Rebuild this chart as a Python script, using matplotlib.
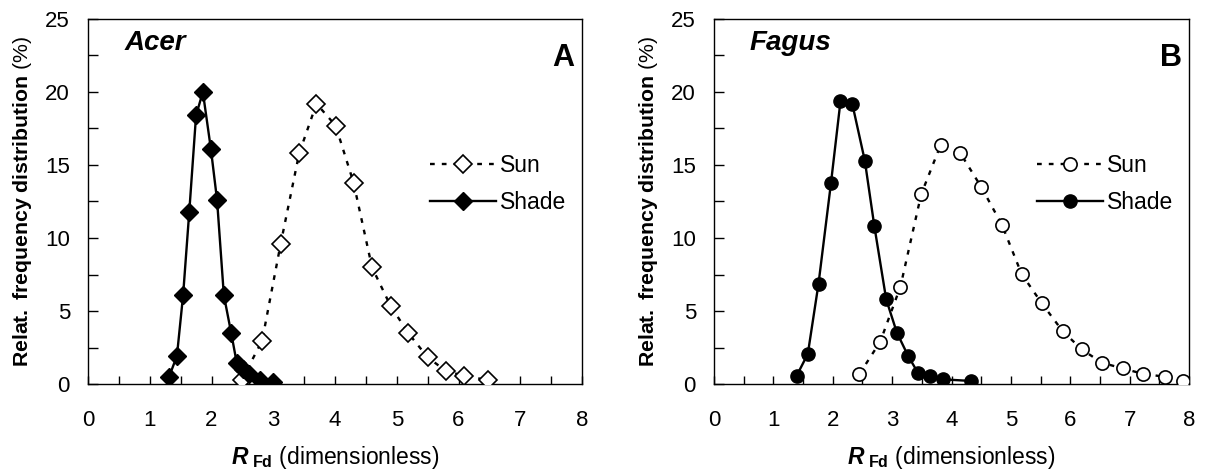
import matplotlib
matplotlib.use("Agg")
import matplotlib.pyplot as plt
from matplotlib.ticker import MultipleLocator

plt.rcParams['font.family'] = ['Liberation Sans', 'DejaVu Sans']
plt.rcParams['mathtext.fontset'] = 'custom'
plt.rcParams['mathtext.rm'] = 'Liberation Sans'
plt.rcParams['mathtext.bf'] = 'Liberation Sans:bold'
plt.rcParams['mathtext.bfit'] = 'Liberation Sans:bold:italic'
plt.rcParams['mathtext.it'] = 'Liberation Sans:italic'

# Acer
acer_sun_x = [2.49, 2.82, 3.12, 3.42, 3.70, 4.01, 4.30, 4.60, 4.90, 5.19, 5.50, 5.79, 6.09, 6.48]
acer_sun_y = [0.27, 2.97, 9.6, 15.8, 19.2, 17.7, 13.8, 7.98, 5.35, 3.47, 1.83, 0.91, 0.55, 0.27]
acer_shade_x = [1.31, 1.44, 1.54, 1.64, 1.75, 1.86, 1.99, 2.09, 2.20, 2.32, 2.41, 2.51, 2.60, 2.79, 2.99]
acer_shade_y = [0.46, 1.92, 6.08, 11.8, 18.4, 20.0, 16.1, 12.6, 6.08, 3.47, 1.42, 1.05, 0.70, 0.27, 0.14]

# Fagus
fagus_sun_x = [2.45, 2.80, 3.14, 3.49, 3.82, 4.15, 4.50, 4.85, 5.18, 5.52, 5.87, 6.19, 6.53, 6.88, 7.23, 7.59, 7.90]
fagus_sun_y = [0.69, 2.90, 6.67, 13.0, 16.4, 15.8, 13.5, 10.9, 7.54, 5.53, 3.63, 2.38, 1.46, 1.07, 0.69, 0.50, 0.21]
fagus_shade_x = [1.39, 1.58, 1.76, 1.97, 2.13, 2.33, 2.54, 2.70, 2.90, 3.08, 3.27, 3.44, 3.64, 3.85, 4.32]
fagus_shade_y = [0.55, 2.06, 6.86, 13.76, 19.36, 19.17, 15.3, 10.83, 5.80, 3.52, 1.92, 0.73, 0.55, 0.32, 0.21]

panels = [
    ("Acer", "A", 'D', acer_sun_x, acer_sun_y, acer_shade_x, acer_shade_y),
    ("Fagus", "B", 'o', fagus_sun_x, fagus_sun_y, fagus_shade_x, fagus_shade_y),
]

W, H = 1223, 469
fig = plt.figure(figsize=(W / 100, H / 100), dpi=100)
boxes = [(88, 582), (714, 1189)]
top, bottom = 19, 384

tick_fs = 16
for (genus, letter, mk, sx, sy, hx, hy), (x0, x1) in zip(panels, boxes):
    ax = fig.add_axes([x0 / W, (H - bottom) / H, (x1 - x0) / W, (bottom - top) / H])
    ms = 9.5 if mk == 'o' else 9
    ax.plot(sx, sy, linestyle=(0, (2, 3)), color='black', lw=1.7, marker=mk,
            markersize=ms, markerfacecolor='white', markeredgecolor='black',
            markeredgewidth=1.2, label='Sun', zorder=3)
    ax.plot(hx, hy, linestyle='-', color='black', lw=1.7, marker=mk,
            markersize=ms, markerfacecolor='black', markeredgecolor='black',
            label='Shade', zorder=4)
    ax.set_xlim(0, 8)
    ax.set_ylim(0, 25)
    ax.xaxis.set_major_locator(MultipleLocator(1))
    ax.xaxis.set_minor_locator(MultipleLocator(0.5))
    ax.yaxis.set_major_locator(MultipleLocator(5))
    ax.yaxis.set_minor_locator(MultipleLocator(2.5))
    ax.tick_params(axis='both', which='both', direction='in', top=False, right=False,
                   width=1.0, labelsize=tick_fs)
    ax.tick_params(axis='x', which='major', length=6, pad=19)
    ax.tick_params(axis='x', which='minor', length=6)
    ax.tick_params(axis='y', which='major', length=7, pad=13)
    ax.tick_params(axis='y', which='minor', length=7)
    for sp in ax.spines.values():
        sp.set_linewidth(1.0)
    ax.set_xlabel(r'$\mathbfit{R}_{\ \mathbf{Fd}}$ (dimensionless)', fontsize=16.5, labelpad=9)
    ax.set_ylabel(r'$\mathbf{Relat.\ frequency\ distribution}$ (%)', fontsize=15.3, labelpad=8)
    ax.text(0.075, 0.97, genus, transform=ax.transAxes, fontsize=20,
            fontweight='bold', fontstyle='italic', va='top', ha='left')
    ax.text(0.985, 0.935, letter, transform=ax.transAxes, fontsize=22,
            fontweight='bold', va='top', ha='right')
    ax.legend(loc='upper right', bbox_to_anchor=(1.0, 0.675), frameon=False,
              fontsize=16.5, handlelength=2.9, handletextpad=0.15,
              labelspacing=0.62, borderaxespad=0.3)

fig.savefig('out.png', dpi=100)
